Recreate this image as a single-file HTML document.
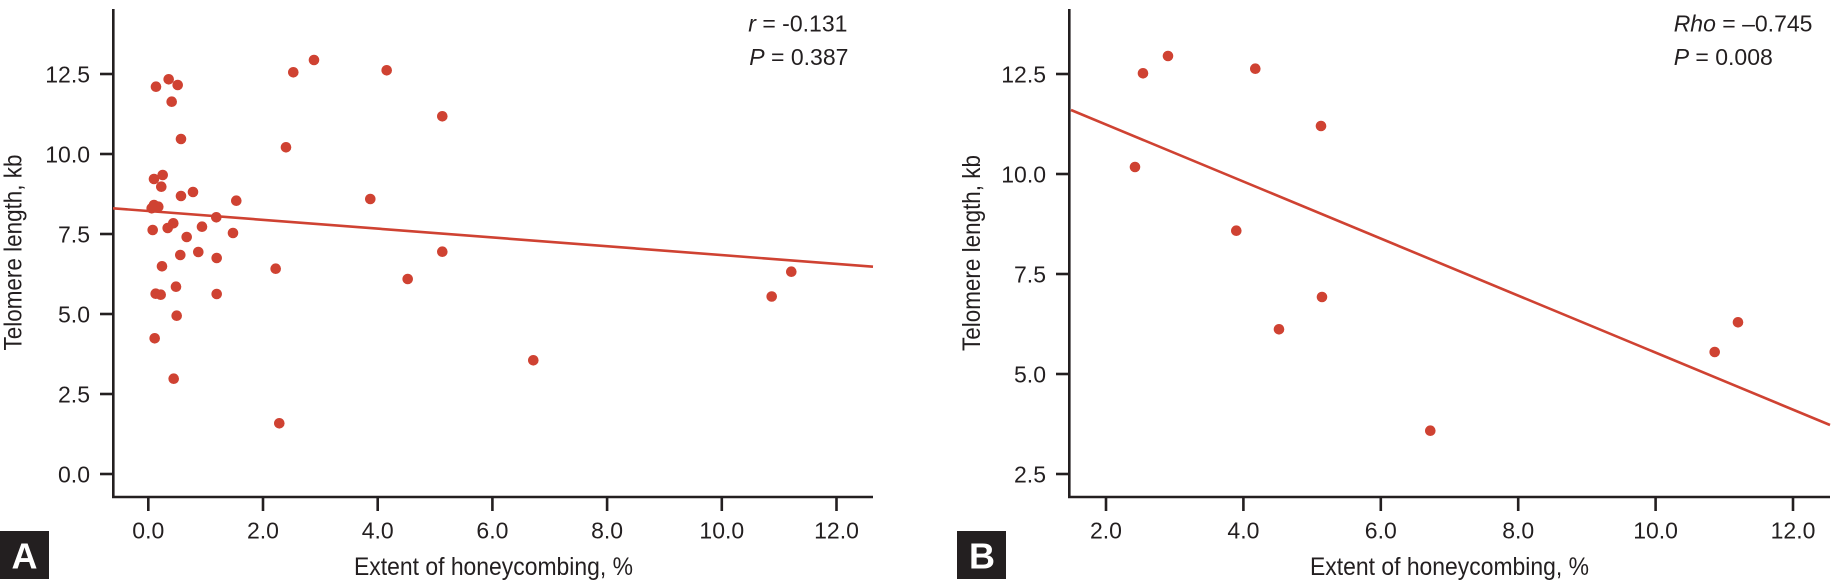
<!DOCTYPE html>
<html>
<head>
<meta charset="utf-8">
<style>
  html,body{margin:0;padding:0;background:#fff;}
  svg{display:block;}
  text{font-family:"Liberation Sans",Arial,sans-serif;fill:#231f20;}
</style>
</head>
<body>
<svg width="1837" height="586" viewBox="0 0 1837 586" xmlns="http://www.w3.org/2000/svg">
  <rect width="1837" height="586" fill="#fff"/>

  <!-- PANEL A -->
  <g stroke="#231f20" stroke-width="2.6" fill="none">
    <line x1="113.3" y1="9" x2="113.3" y2="498"/>
    <line x1="112" y1="497" x2="873" y2="497"/>
    <line x1="100" y1="474" x2="113" y2="474"/>
    <line x1="100" y1="394" x2="113" y2="394"/>
    <line x1="100" y1="314" x2="113" y2="314"/>
    <line x1="100" y1="234" x2="113" y2="234"/>
    <line x1="100" y1="154" x2="113" y2="154"/>
    <line x1="100" y1="74" x2="113" y2="74"/>
    <line x1="148.3" y1="497" x2="148.3" y2="511"/>
    <line x1="263" y1="497" x2="263" y2="511"/>
    <line x1="377.7" y1="497" x2="377.7" y2="511"/>
    <line x1="492.4" y1="497" x2="492.4" y2="511"/>
    <line x1="607.1" y1="497" x2="607.1" y2="511"/>
    <line x1="721.8" y1="497" x2="721.8" y2="511"/>
    <line x1="836.5" y1="497" x2="836.5" y2="511"/>
  </g>
  <g font-size="23" text-anchor="end">
    <text x="90" y="482.3">0.0</text>
    <text x="90" y="402.3">2.5</text>
    <text x="90" y="322.3">5.0</text>
    <text x="90" y="242.3">7.5</text>
    <text x="90" y="162.3">10.0</text>
    <text x="90" y="82.3">12.5</text>
  </g>
  <g font-size="23" text-anchor="middle">
    <text x="148.3" y="538.3">0.0</text>
    <text x="263" y="538.3">2.0</text>
    <text x="377.7" y="538.3">4.0</text>
    <text x="492.4" y="538.3">6.0</text>
    <text x="607.1" y="538.3">8.0</text>
    <text x="721.8" y="538.3">10.0</text>
    <text x="836.5" y="538.3">12.0</text>
  </g>
  <text x="354" y="575" font-size="25" textLength="279" lengthAdjust="spacingAndGlyphs">Extent of honeycombing, %</text>
  <text transform="translate(21.7,252.5) rotate(-90)" font-size="25" text-anchor="middle" textLength="196" lengthAdjust="spacingAndGlyphs">Telomere length, kb</text>

  <text x="748.3" y="31.7" font-size="23"><tspan font-style="italic">r</tspan> = -0.131</text>
  <text x="749.3" y="65" font-size="23"><tspan font-style="italic">P</tspan> = 0.387</text>

  <line x1="113" y1="208.3" x2="873" y2="266.7" stroke="#cf4232" stroke-width="2.6"/>

  <g fill="#cf4232">
    <circle cx="156" cy="86.7" r="5.3"/>
    <circle cx="168.7" cy="79.3" r="5.3"/>
    <circle cx="177.7" cy="85" r="5.3"/>
    <circle cx="171.7" cy="101.7" r="5.3"/>
    <circle cx="181" cy="139" r="5.3"/>
    <circle cx="293.3" cy="72.3" r="5.3"/>
    <circle cx="314" cy="60" r="5.3"/>
    <circle cx="386.7" cy="70.3" r="5.3"/>
    <circle cx="442.3" cy="116.3" r="5.3"/>
    <circle cx="286" cy="147.3" r="5.3"/>
    <circle cx="154" cy="179" r="5.3"/>
    <circle cx="162.7" cy="175" r="5.3"/>
    <circle cx="161.3" cy="186.7" r="5.3"/>
    <circle cx="181" cy="196" r="5.3"/>
    <circle cx="193" cy="192" r="5.3"/>
    <circle cx="236.3" cy="200.7" r="5.3"/>
    <circle cx="370.3" cy="199" r="5.3"/>
    <circle cx="154" cy="205" r="5.3"/>
    <circle cx="158.3" cy="206.7" r="5.3"/>
    <circle cx="151.7" cy="208.3" r="5.3"/>
    <circle cx="216.3" cy="217.3" r="5.3"/>
    <circle cx="152.7" cy="230" r="5.3"/>
    <circle cx="167.7" cy="228" r="5.3"/>
    <circle cx="173.3" cy="223.3" r="5.3"/>
    <circle cx="202" cy="226.7" r="5.3"/>
    <circle cx="233" cy="233" r="5.3"/>
    <circle cx="186.7" cy="237" r="5.3"/>
    <circle cx="180.3" cy="255" r="5.3"/>
    <circle cx="198.3" cy="252" r="5.3"/>
    <circle cx="216.7" cy="258" r="5.3"/>
    <circle cx="442.3" cy="251.7" r="5.3"/>
    <circle cx="162" cy="266.3" r="5.3"/>
    <circle cx="275.7" cy="268.7" r="5.3"/>
    <circle cx="407.7" cy="279" r="5.3"/>
    <circle cx="155.7" cy="293.7" r="5.3"/>
    <circle cx="160.7" cy="294.7" r="5.3"/>
    <circle cx="176" cy="286.7" r="5.3"/>
    <circle cx="216.7" cy="294" r="5.3"/>
    <circle cx="176.7" cy="315.7" r="5.3"/>
    <circle cx="154.7" cy="338.3" r="5.3"/>
    <circle cx="173.7" cy="378.7" r="5.3"/>
    <circle cx="279.3" cy="423.3" r="5.3"/>
    <circle cx="533.3" cy="360.3" r="5.3"/>
    <circle cx="771.7" cy="296.5" r="5.3"/>
    <circle cx="791.3" cy="271.7" r="5.3"/>
  </g>

  <rect x="0" y="531" width="49" height="48" fill="#231f20"/>
  <text x="24.5" y="568.3" font-size="36" font-weight="bold" text-anchor="middle" style="fill:#fff">A</text>

  <!-- PANEL B -->
  <g stroke="#231f20" stroke-width="2.6" fill="none">
    <line x1="1069.3" y1="9" x2="1069.3" y2="498"/>
    <line x1="1068" y1="497" x2="1830" y2="497"/>
    <line x1="1056" y1="474" x2="1069" y2="474"/>
    <line x1="1056" y1="374" x2="1069" y2="374"/>
    <line x1="1056" y1="274" x2="1069" y2="274"/>
    <line x1="1056" y1="174" x2="1069" y2="174"/>
    <line x1="1056" y1="74" x2="1069" y2="74"/>
    <line x1="1106" y1="497" x2="1106" y2="511"/>
    <line x1="1243.4" y1="497" x2="1243.4" y2="511"/>
    <line x1="1380.8" y1="497" x2="1380.8" y2="511"/>
    <line x1="1518.2" y1="497" x2="1518.2" y2="511"/>
    <line x1="1655.6" y1="497" x2="1655.6" y2="511"/>
    <line x1="1793" y1="497" x2="1793" y2="511"/>
  </g>
  <g font-size="23" text-anchor="end">
    <text x="1046" y="482.3">2.5</text>
    <text x="1046" y="382.3">5.0</text>
    <text x="1046" y="282.3">7.5</text>
    <text x="1046" y="182.3">10.0</text>
    <text x="1046" y="82.3">12.5</text>
  </g>
  <g font-size="23" text-anchor="middle">
    <text x="1106" y="538.3">2.0</text>
    <text x="1243.4" y="538.3">4.0</text>
    <text x="1380.8" y="538.3">6.0</text>
    <text x="1518.2" y="538.3">8.0</text>
    <text x="1655.6" y="538.3">10.0</text>
    <text x="1793" y="538.3">12.0</text>
  </g>
  <text x="1310" y="575" font-size="25" textLength="279" lengthAdjust="spacingAndGlyphs">Extent of honeycombing, %</text>
  <text transform="translate(980,253) rotate(-90)" font-size="25" text-anchor="middle" textLength="196" lengthAdjust="spacingAndGlyphs">Telomere length, kb</text>

  <text x="1673.7" y="31.7" font-size="23"><tspan font-style="italic">Rho</tspan> = –0.745</text>
  <text x="1673.7" y="65" font-size="23"><tspan font-style="italic">P</tspan> = 0.008</text>

  <line x1="1071" y1="110" x2="1830" y2="425" stroke="#cf4232" stroke-width="2.6"/>

  <g fill="#cf4232">
    <circle cx="1143" cy="73.3" r="5.3"/>
    <circle cx="1168" cy="56" r="5.3"/>
    <circle cx="1255.3" cy="68.7" r="5.3"/>
    <circle cx="1321" cy="126" r="5.3"/>
    <circle cx="1135" cy="167" r="5.3"/>
    <circle cx="1236.3" cy="230.7" r="5.3"/>
    <circle cx="1322" cy="297" r="5.3"/>
    <circle cx="1279" cy="329.3" r="5.3"/>
    <circle cx="1738" cy="322.3" r="5.3"/>
    <circle cx="1714.7" cy="352" r="5.3"/>
    <circle cx="1430.3" cy="430.7" r="5.3"/>
  </g>

  <rect x="957" y="531" width="49" height="48" fill="#231f20"/>
  <text x="982" y="568.3" font-size="36" font-weight="bold" text-anchor="middle" style="fill:#fff">B</text>
</svg>
</body>
</html>
